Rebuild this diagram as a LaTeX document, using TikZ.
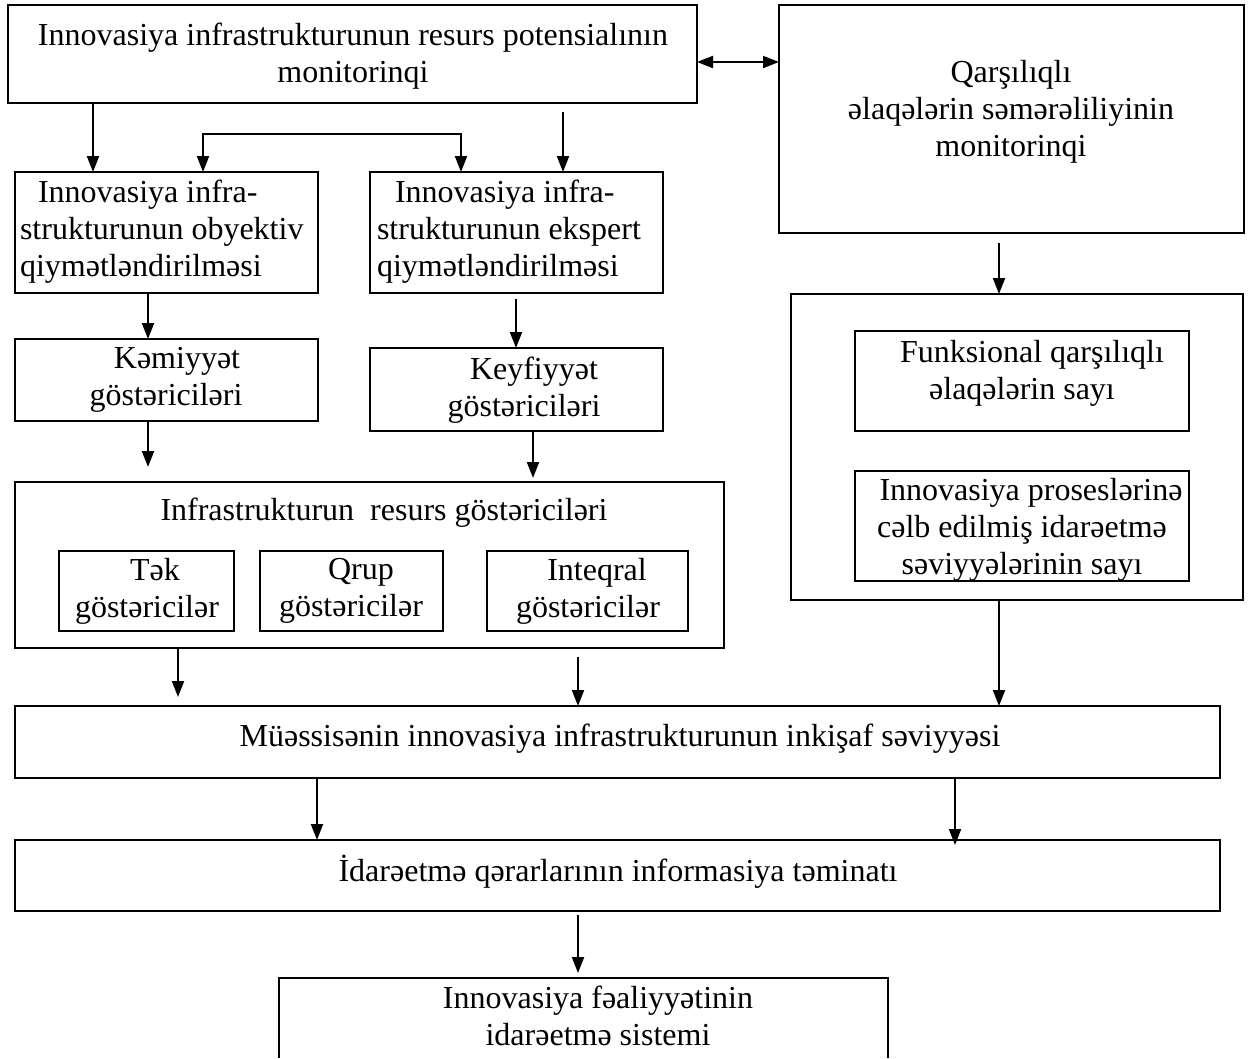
\documentclass[tikz,border=0pt]{standalone}
\usepackage{fontspec}
\setmainfont{Liberation Serif}
\usetikzlibrary{arrows.meta}

% rectangle node given by its corners: name, x1, y1, x2, y2
\newcommand\blk[5]{%
  \node[box, minimum width={#4-#2}, minimum height={#5-#3}] (#1)
    at ({(#2+#4)/2},{(#3+#5)/2}) {};}

\begin{document}
\begin{tikzpicture}[x=1pt, y=-1pt,
  box/.style={draw, line width=2pt, inner sep=0pt, outer sep=0pt},
  edge/.style={line width=2pt},
  txt/.style={inner sep=0pt, outer sep=0pt, font=\fontsize{32}{37}\selectfont},
  ctxt/.style={txt, align=center, anchor=north},
  ltxt/.style={txt, align=left, anchor=north west},
  btxt/.style={txt, anchor=base},
  arr/.style={line width=2pt, -{Triangle[length=16pt,width=12pt]}},
  darr/.style={line width=2pt,
    {Triangle[length=16pt,width=12pt]}-{Triangle[length=16pt,width=12pt]}}]

\useasboundingbox (0,0) rectangle (1248,1058);

% columns used by the connectors
\coordinate (x93) at (93,0);
\coordinate (x148) at (148,0);
\coordinate (x178) at (178,0);
\coordinate (x203) at (203,0);
\coordinate (x317) at (317,0);
\coordinate (x461) at (461,0);
\coordinate (x516) at (516,0);
\coordinate (x533) at (533,0);
\coordinate (x563) at (563,0);
\coordinate (x578) at (578,0);
\coordinate (x955) at (955,0);
\coordinate (x999) at (999,0);
\coordinate (r62) at (0,62);

% boxes
\blk{A}{8}{5}{697}{103}
\blk{B}{779}{5}{1244}{233}
\blk{C}{15}{172}{318}{293}
\blk{D}{370}{172}{663}{293}
\blk{E}{15}{339}{318}{421}
\blk{F}{370}{348}{663}{431}
\blk{G}{15}{482}{724}{648}
\blk{G1}{59}{551}{234}{631}
\blk{G2}{260}{551}{443}{631}
\blk{G3}{487}{551}{688}{631}
\blk{H}{791}{294}{1243}{600}
\blk{H1}{855}{331}{1189}{431}
\blk{H2}{855}{471}{1189}{581}
\blk{J}{15}{706}{1220}{778}
\blk{K}{15}{840}{1220}{911}
% last box runs past the lower edge
\coordinate (Lnw) at (279,978);
\coordinate (Lne) at (888,978);
\draw[edge] (279,1058) -- (Lnw) -- (Lne) -- (888,1058);

% texts
\node[ctxt] (tA) at (353,23) {Innovasiya infrastrukturunun resurs potensialının\\monitorinqi};
\node[ctxt] (tB) at (1011,60) {Qarşılıqlı\\əlaqələrin səmərəliliyinin\\monitorinqi};
\node[ltxt] (tC) at (20,180) {\hspace*{18pt}Innovasiya infra-\\strukturunun obyektiv\\qiymətləndirilməsi};
\node[ltxt] (tD) at (377,180) {\hspace*{18pt}Innovasiya infra-\\strukturunun ekspert\\qiymətləndirilməsi};
\node[ctxt] (tE) at (166,347) {\hspace*{22pt}Kəmiyyət\\göstəriciləri};
\node[ctxt] (tF) at (524,357) {\hspace*{20pt}Keyfiyyət\\göstəriciləri};
\node[btxt] (tG) at (384,520) {Infrastrukturun\ \ resurs göstəriciləri};
\node[ctxt] (tG1) at (147,558) {\hspace*{16pt}Tək\\göstəricilər};
\node[ctxt] (tG2) at (351,558) {\hspace*{20pt}Qrup\\göstəricilər};
\node[ctxt] (tG3) at (588,558) {\hspace*{18pt}Inteqral\\göstəricilər};
\node[ctxt] (tH1) at (1022,340) {\hspace*{20pt}Funksional qarşılıqlı\\əlaqələrin sayı};
\node[ctxt] (tH2) at (1022,478) {\hspace*{18pt}Innovasiya proseslərinə\\cəlb edilmiş idarəetmə\\səviyyələrinin sayı};
\node[btxt] (tJ) at (620,746) {Müəssisənin innovasiya infrastrukturunun inkişaf səviyyəsi};
\node[btxt] (tK) at (618,881) {İdarəetmə qərarlarının informasiya təminatı};
\node[ctxt] (tL) at (598,986) {Innovasiya fəaliyyətinin\\idarəetmə sistemi};

% connectors
\draw[darr] (A.east |- r62) -- (B.west |- r62);
\draw[arr] (x93 |- A.south) -- (x93 |- C.north);
\draw[arr, shorten <=9pt] (x563 |- A.south) -- (x563 |- D.north);
\draw[darr] (x203 |- C.north) -- ++(0,-38) -| (x461 |- D.north);
\draw[arr] (x148 |- C.south) -- (x148 |- E.north);
\draw[arr, shorten <=6pt] (x516 |- D.south) -- (x516 |- F.north);
\draw[arr, shorten >=15pt] (x148 |- E.south) -- (x148 |- G.north);
\draw[arr, shorten >=4pt] (x533 |- F.south) -- (x533 |- G.north);
\draw[arr, shorten <=10pt] (x999 |- B.south) -- (x999 |- H.north);
\draw[arr, shorten >=9pt] (x178 |- G.south) -- (x178 |- J.north);
\draw[arr, shorten <=9pt] (x578 |- G.south) -- (x578 |- J.north);
\draw[arr] (x999 |- H.south) -- (x999 |- J.north);
\draw[arr] (x317 |- J.south) -- (x317 |- K.north);
\draw[arr, shorten >=-5pt] (x955 |- J.south) -- (x955 |- K.north);
\draw[arr, shorten <=4pt, shorten >=5pt] (x578 |- K.south) -- (x578 |- Lnw);

\end{tikzpicture}
\end{document}
